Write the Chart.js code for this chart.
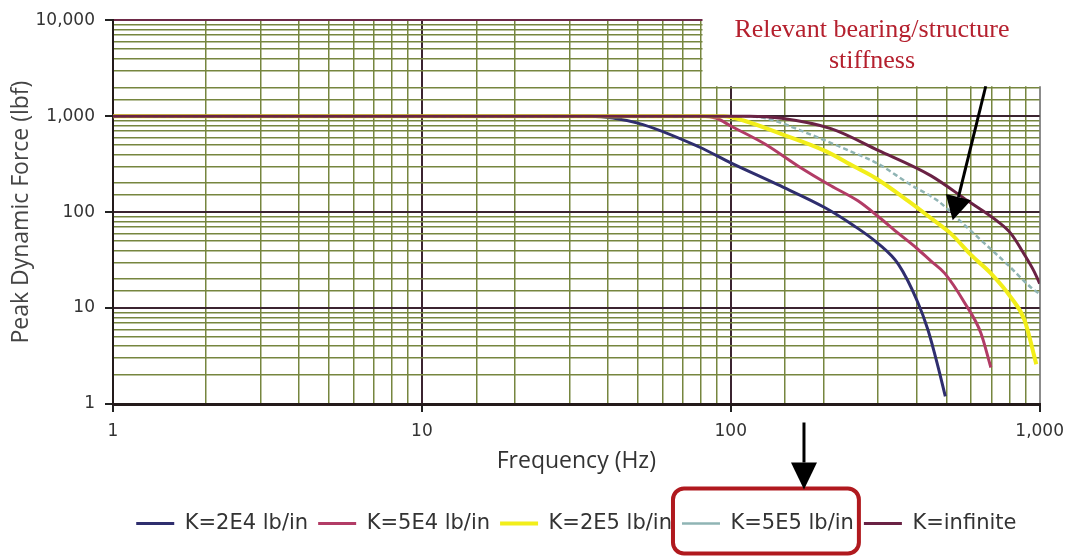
<!DOCTYPE html>
<html>
<head>
<meta charset="utf-8">
<title>Peak dynamic force vs frequency</title>
<script src="https://cdn.jsdelivr.net/npm/chart.js@4.4.1/dist/chart.umd.min.js"></script>
<style>
  html, body { margin: 0; padding: 0; background: #fff; }
  canvas { display: block; }
</style>
</head>
<body>
<canvas id="force-graph" width="1073" height="556"></canvas>
<script>
// frequency (Hz) and peak dynamic force (lbf) for each support stiffness
const k2e4Freq  = [1, 35, 50, 79, 100, 142, 202, 249, 300, 349, 403, 435, 468, 495];
const k2e4Force = [1000, 1000, 846, 477, 326, 193, 111, 73, 47, 28.5, 11.5, 5.9, 2.5, 1.2];

const k5e4Freq  = [1, 80, 90, 100, 129, 165, 211, 258, 300, 349, 400, 444, 493, 572, 645, 695];
const k5e4Force = [1000, 1000, 950, 790, 513, 303, 188, 131, 90, 60, 42, 31, 23, 11.3, 5.5, 2.4];

const k2e5Freq  = [1, 95, 110, 146, 202, 250, 293, 375, 450, 515, 598, 695, 806, 893, 975];
const k2e5Force = [1000, 1000, 900, 650, 434, 300, 228, 131, 84, 60, 36, 23, 13, 7.5, 2.6];

const k5e5Freq  = [1, 110, 130, 182, 240, 300, 380, 468, 550, 664, 800, 935, 1000];
const k5e5Force = [1000, 1000, 950, 640, 440, 318, 195, 131, 82, 47, 27, 16.5, 14];

const kInfFreq  = [1, 115, 146, 211, 300, 444, 585, 731, 806, 893, 960, 1000];
const kInfForce = [1000, 1000, 950, 740, 440, 240, 131, 80, 60, 36, 24, 18];

const seriesLabels = ['K=2E4 lb/in', 'K=5E4 lb/in', 'K=2E5 lb/in', 'K=5E5 lb/in', 'K=infinite'];
const calloutLines = ['Relevant bearing/structure', 'stiffness'];

const toPoints = (freq, force) => freq.map((f, i) => ({ x: f, y: force[i] }));
const isDecade = v => Math.abs(Math.log10(v) - Math.round(Math.log10(v))) < 1e-9;
const decadeLabel = v => isDecade(v) ? Number(v).toLocaleString('en-US') : '';

const MAJOR = '#3b2430';
const MINOR = '#76863f';

function drawArrow(ctx, x1, y1, x2, y2, headLen, headWidth) {
    const ang = Math.atan2(y2 - y1, x2 - x1);
    const bx = x2 - Math.cos(ang) * headLen;
    const by = y2 - Math.sin(ang) * headLen;
    ctx.beginPath();
    ctx.moveTo(x1, y1);
    ctx.lineTo(bx, by);
    ctx.stroke();
    ctx.beginPath();
    ctx.moveTo(x2, y2);
    ctx.lineTo(bx + Math.sin(ang) * headWidth / 2, by - Math.cos(ang) * headWidth / 2);
    ctx.lineTo(bx - Math.sin(ang) * headWidth / 2, by + Math.cos(ang) * headWidth / 2);
    ctx.closePath();
    ctx.fill();
}

// note in the top right, its pointer, and the highlight round one legend entry
const callout = {
    id: 'callout',
    afterDraw(chart) {
        const { ctx, scales: { x, y } } = chart;
        ctx.save();

        // note background hides the grid under it
        const noteLeft = x.getPixelForValue(81);
        const noteBottom = y.getPixelForValue(2050);
        ctx.fillStyle = '#fff';
        ctx.fillRect(noteLeft, 0, chart.width - noteLeft, noteBottom);

        ctx.fillStyle = '#b5202e';
        ctx.font = '26px "Liberation Serif"';
        ctx.textAlign = 'center';
        ctx.textBaseline = 'alphabetic';
        ctx.fillText(calloutLines[0], 872, 37);
        ctx.fillText(calloutLines[1], 872, 68);

        ctx.strokeStyle = '#000';
        ctx.fillStyle = '#000';
        ctx.lineWidth = 3;
        drawArrow(ctx, x.getPixelForValue(669), noteBottom,
            x.getPixelForValue(523), y.getPixelForValue(82), 24, 26);

        // box round the K=5E5 entry
        const hb = chart.legend.legendHitBoxes[3];
        if (hb) {
            const cy = hb.top + hb.height / 2;
            const bx = hb.left - 9;
            const bw = hb.width + 14;
            const top = cy - 35;
            ctx.strokeStyle = '#b0191e';
            ctx.lineWidth = 4;
            ctx.beginPath();
            ctx.roundRect(bx, top, bw, 65, 11);
            ctx.stroke();

            ctx.strokeStyle = '#000';
            ctx.lineWidth = 3;
            drawArrow(ctx, hb.left + 122, top - 66, hb.left + 122, top + 1, 27, 26);
        }
        ctx.restore();
    }
};

const data = {
    datasets: [{
        label: seriesLabels[0],
        data: toPoints(k2e4Freq, k2e4Force),
        borderColor: '#2f2e6e',
        borderWidth: 3,
        order: 4
    },
    {
        label: seriesLabels[1],
        data: toPoints(k5e4Freq, k5e4Force),
        borderColor: '#b23c66',
        borderWidth: 3,
        order: 3
    },
    {
        label: seriesLabels[2],
        data: toPoints(k2e5Freq, k2e5Force),
        borderColor: '#f2ee1a',
        borderWidth: 4,
        order: 2
    },
    {
        label: seriesLabels[3],
        data: toPoints(k5e5Freq, k5e5Force),
        borderColor: '#8fb4b4',
        borderWidth: 2.5,
        borderDash: [5, 3],
        order: 1
    },
    {
        label: seriesLabels[4],
        data: toPoints(kInfFreq, kInfForce),
        borderColor: '#6a2244',
        borderWidth: 3,
        order: 0
    }]
};

const tickFont = { family: 'DejaVu Sans', size: 17 };
const titleFont = { family: 'Open Sans', size: 23 };

const config = {
    type: 'line',
    data,
    options: {
        responsive: false,
        animation: false,
        elements: {
            point: { radius: 0 },
            line: { cubicInterpolationMode: 'monotone', fill: false }
        },
        layout: { padding: { top: 17, right: 31, bottom: 12, left: 0 } },
        plugins: {
            tooltip: { enabled: false },
            legend: {
                position: 'bottom',
                fullSize: false,
                labels: {
                    usePointStyle: true,
                    pointStyle: 'line',
                    pointStyleWidth: 38,
                    padding: 10,
                    color: '#333',
                    font: { family: 'DejaVu Sans', size: 21 },
                    sort: (a, b) => a.datasetIndex - b.datasetIndex
                }
            }
        },
        scales: {
            x: {
                type: 'logarithmic',
                min: 1,
                max: 1000,
                afterFit: s => { s.height = 99; },
                ticks: {
                    autoSkip: false,
                    maxRotation: 0,
                    padding: 9,
                    color: '#333',
                    font: tickFont,
                    callback: v => decadeLabel(v)
                },
                grid: {
                    color: c => c.tick.value === 1000 ? '#8c8c8c' : (isDecade(c.tick.value) ? MAJOR : MINOR),
                    lineWidth: c => isDecade(c.tick.value) ? 2 : 1.5,
                    tickLength: 8,
                    tickColor: c => isDecade(c.tick.value) ? '#222' : 'rgba(0,0,0,0)'
                },
                border: { color: '#231a1a', width: 3 },
                title: {
                    display: true,
                    text: 'Frequency (Hz)',
                    color: '#333',
                    font: titleFont,
                    padding: { top: 0, bottom: 28 }
                }
            },
            y: {
                type: 'logarithmic',
                min: 1,
                max: 10000,
                afterFit: s => { s.width = 113; },
                ticks: {
                    autoSkip: false,
                    padding: 10,
                    color: '#333',
                    font: tickFont,
                    callback: v => decadeLabel(v)
                },
                grid: {
                    color: c => c.tick.value === 10000 ? '#6e2a48' : (isDecade(c.tick.value) ? MAJOR : MINOR),
                    lineWidth: c => isDecade(c.tick.value) ? 2 : 1.5,
                    tickLength: 8,
                    tickColor: c => isDecade(c.tick.value) ? '#222' : 'rgba(0,0,0,0)'
                },
                border: { color: '#231a1a', width: 2 },
                title: {
                    display: true,
                    text: 'Peak Dynamic Force (lbf)',
                    color: '#444',
                    font: titleFont,
                    padding: { top: 8, bottom: 0 }
                }
            }
        }
    },
    plugins: [callout]
};

const forceChart = new Chart(document.getElementById('force-graph'), config);
</script>
</body>
</html>
